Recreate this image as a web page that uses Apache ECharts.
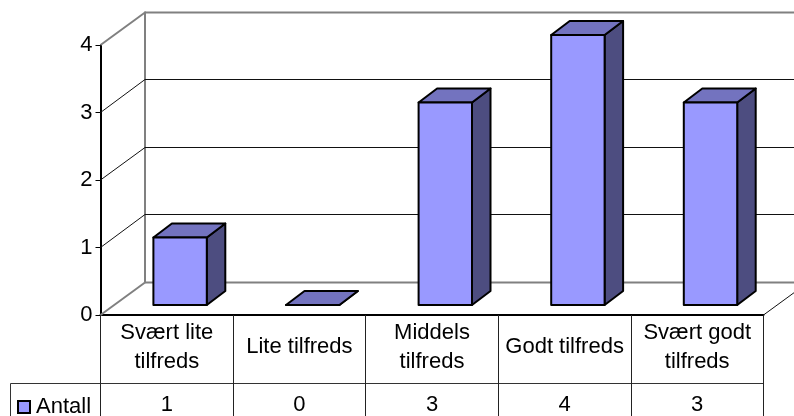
<!DOCTYPE html>
<html>
<head>
<meta charset="utf-8">
<style>
  html, body { margin: 0; padding: 0; background: #fff; }
  #chart { width: 794px; height: 416px; overflow: hidden; }
</style>
<script src="https://cdn.jsdelivr.net/npm/echarts@6/dist/echarts.min.js"></script>
</head>
<body>
<div id="chart"></div>
<script>
  var categories = ['Svært lite\ntilfreds', 'Lite tilfreds', 'Middels\ntilfreds', 'Godt tilfreds', 'Svært godt\ntilfreds'];
  var values = [1, 0, 3, 4, 3];
  var seriesName = 'Antall';
  var yTicks = [0, 1, 2, 3, 4];

  var font = '"Liberation Sans", Arial, sans-serif';
  var fontSize = 22;

  // 3d depth of the walls and of the bars, in pixels
  var wallDx = 44.5, wallDy = -33.5;
  var barOffDx = 13.3, barOffDy = -10;
  var barDx = 18.5, barDy = -14;
  var barHalf = 26.7;

  var myChart = echarts.init(document.getElementById('chart'), null, { renderer: 'canvas' });

  function renderWalls(params, api) {
    var v = api.value(0);
    var p0 = api.coord([0, v]);
    var step = api.size([1, 0])[0];
    var left = p0[0] - step / 2;
    var right = left + step * categories.length;
    var y = p0[1];
    var yBack = Math.round(y + wallDy) + 0.5;
    var edge = (v === 0 || v === 4);
    var style = edge ? { stroke: '#808080', lineWidth: 2 } : { stroke: '#111', lineWidth: 1 };
    var kids = [
      { type: 'line', shape: { x1: left, y1: y, x2: left + wallDx, y2: yBack }, style: style },
      { type: 'line', shape: { x1: left + wallDx, y1: yBack, x2: right + wallDx, y2: yBack }, style: style }
    ];
    if (v === 0) {
      // back corner, and the right floor edge
      var top = api.coord([0, 4])[1];
      kids.push({ type: 'line', shape: { x1: left + wallDx, y1: top + wallDy, x2: left + wallDx, y2: yBack }, style: { stroke: '#808080', lineWidth: 2 } });
      kids.push({ type: 'line', shape: { x1: right, y1: y, x2: right + wallDx, y2: yBack }, style: { stroke: '#111', lineWidth: 1 } });
    }
    return { type: 'group', children: kids };
  }

  function renderBar(params, api) {
    var base = api.coord([api.value(0), 0]);
    var top = api.coord([api.value(0), api.value(1)]);
    var x0 = base[0] + barOffDx - barHalf;
    var x1 = base[0] + barOffDx + barHalf;
    var yb = base[1] + barOffDy;
    var yt = top[1] + barOffDy;
    var stroke = { stroke: '#000', lineWidth: 2, lineJoin: 'round' };
    function poly(pts, fill) {
      return { type: 'polygon', shape: { points: pts }, style: Object.assign({ fill: fill }, stroke) };
    }
    return {
      type: 'group',
      children: [
        poly([[x1, yb], [x1 + barDx, yb + barDy], [x1 + barDx, yt + barDy], [x1, yt]], '#4D4D80'),
        poly([[x0, yt], [x0 + barDx, yt + barDy], [x1 + barDx, yt + barDy], [x1, yt]], '#7373BF'),
        poly([[x0, yb], [x1, yb], [x1, yt], [x0, yt]], '#9999FF')
      ]
    };
  }

  myChart.setOption({
    animation: false,
    textStyle: { fontFamily: font },
    color: ['#9999FF'],
    grid: { left: 100.5, right: 30.5, top: 45, bottom: 100.5, containLabel: false },
    legend: {
      show: true,
      data: [{ name: seriesName, icon: 'rect' }],
      left: 17,
      top: 396,
      padding: 0,
      itemWidth: 12,
      itemHeight: 12,
      itemGap: 0,
      textStyle: { fontFamily: font, fontSize: fontSize, color: '#000', padding: [2, 0, 0, 1] },
      itemStyle: { borderColor: '#000', borderWidth: 2 }
    },
    xAxis: [{
      type: 'category',
      data: categories,
      position: 'bottom',
      axisLine: { show: true, lineStyle: { color: '#000', width: 2 } },
      axisTick: { show: true, length: 68, lineStyle: { color: '#222', width: 1 } },
      axisLabel: { interval: 0, margin: 32, color: '#000', fontSize: fontSize, lineHeight: 29, fontFamily: font, verticalAlign: 'middle' },
      splitLine: { show: false }
    }, {
      type: 'category',
      data: values.map(String),
      position: 'bottom',
      offset: 68,
      axisLine: { show: true, onZero: false, lineStyle: { color: '#333', width: 1 } },
      axisTick: { show: true, length: 33, lineStyle: { color: '#222', width: 1 } },
      axisLabel: { interval: 0, margin: 11, color: '#000', fontSize: fontSize, fontFamily: font },
      splitLine: { show: false }
    }],
    yAxis: {
      type: 'value',
      min: 0,
      max: 4,
      interval: 1,
      axisLine: { show: true, lineStyle: { color: '#000', width: 2 } },
      axisTick: { show: true, length: 5, lineStyle: { color: '#000', width: 1 } },
      axisLabel: { margin: 8, color: '#000', fontSize: fontSize, fontFamily: font },
      splitLine: { show: false }
    },
    graphic: [
      // legend cell of the data table
      { type: 'polyline', silent: true, z: 1, shape: { points: [[100.5, 383.5], [10.5, 383.5], [10.5, 416]] }, style: { stroke: '#333', lineWidth: 1, fill: null } }
    ],
    series: [{
      name: 'walls',
      type: 'custom',
      silent: true,
      z: 1,
      clip: false,
      renderItem: renderWalls,
      encode: { y: 0 },
      data: yTicks.map(function (t) { return [t]; })
    }, {
      name: seriesName,
      type: 'custom',
      z: 3,
      clip: false,
      renderItem: renderBar,
      encode: { x: 0, y: 1 },
      itemStyle: { color: '#9999FF' },
      data: values.map(function (v, i) { return [i, v]; })
    }]
  });
</script>
</body>
</html>
